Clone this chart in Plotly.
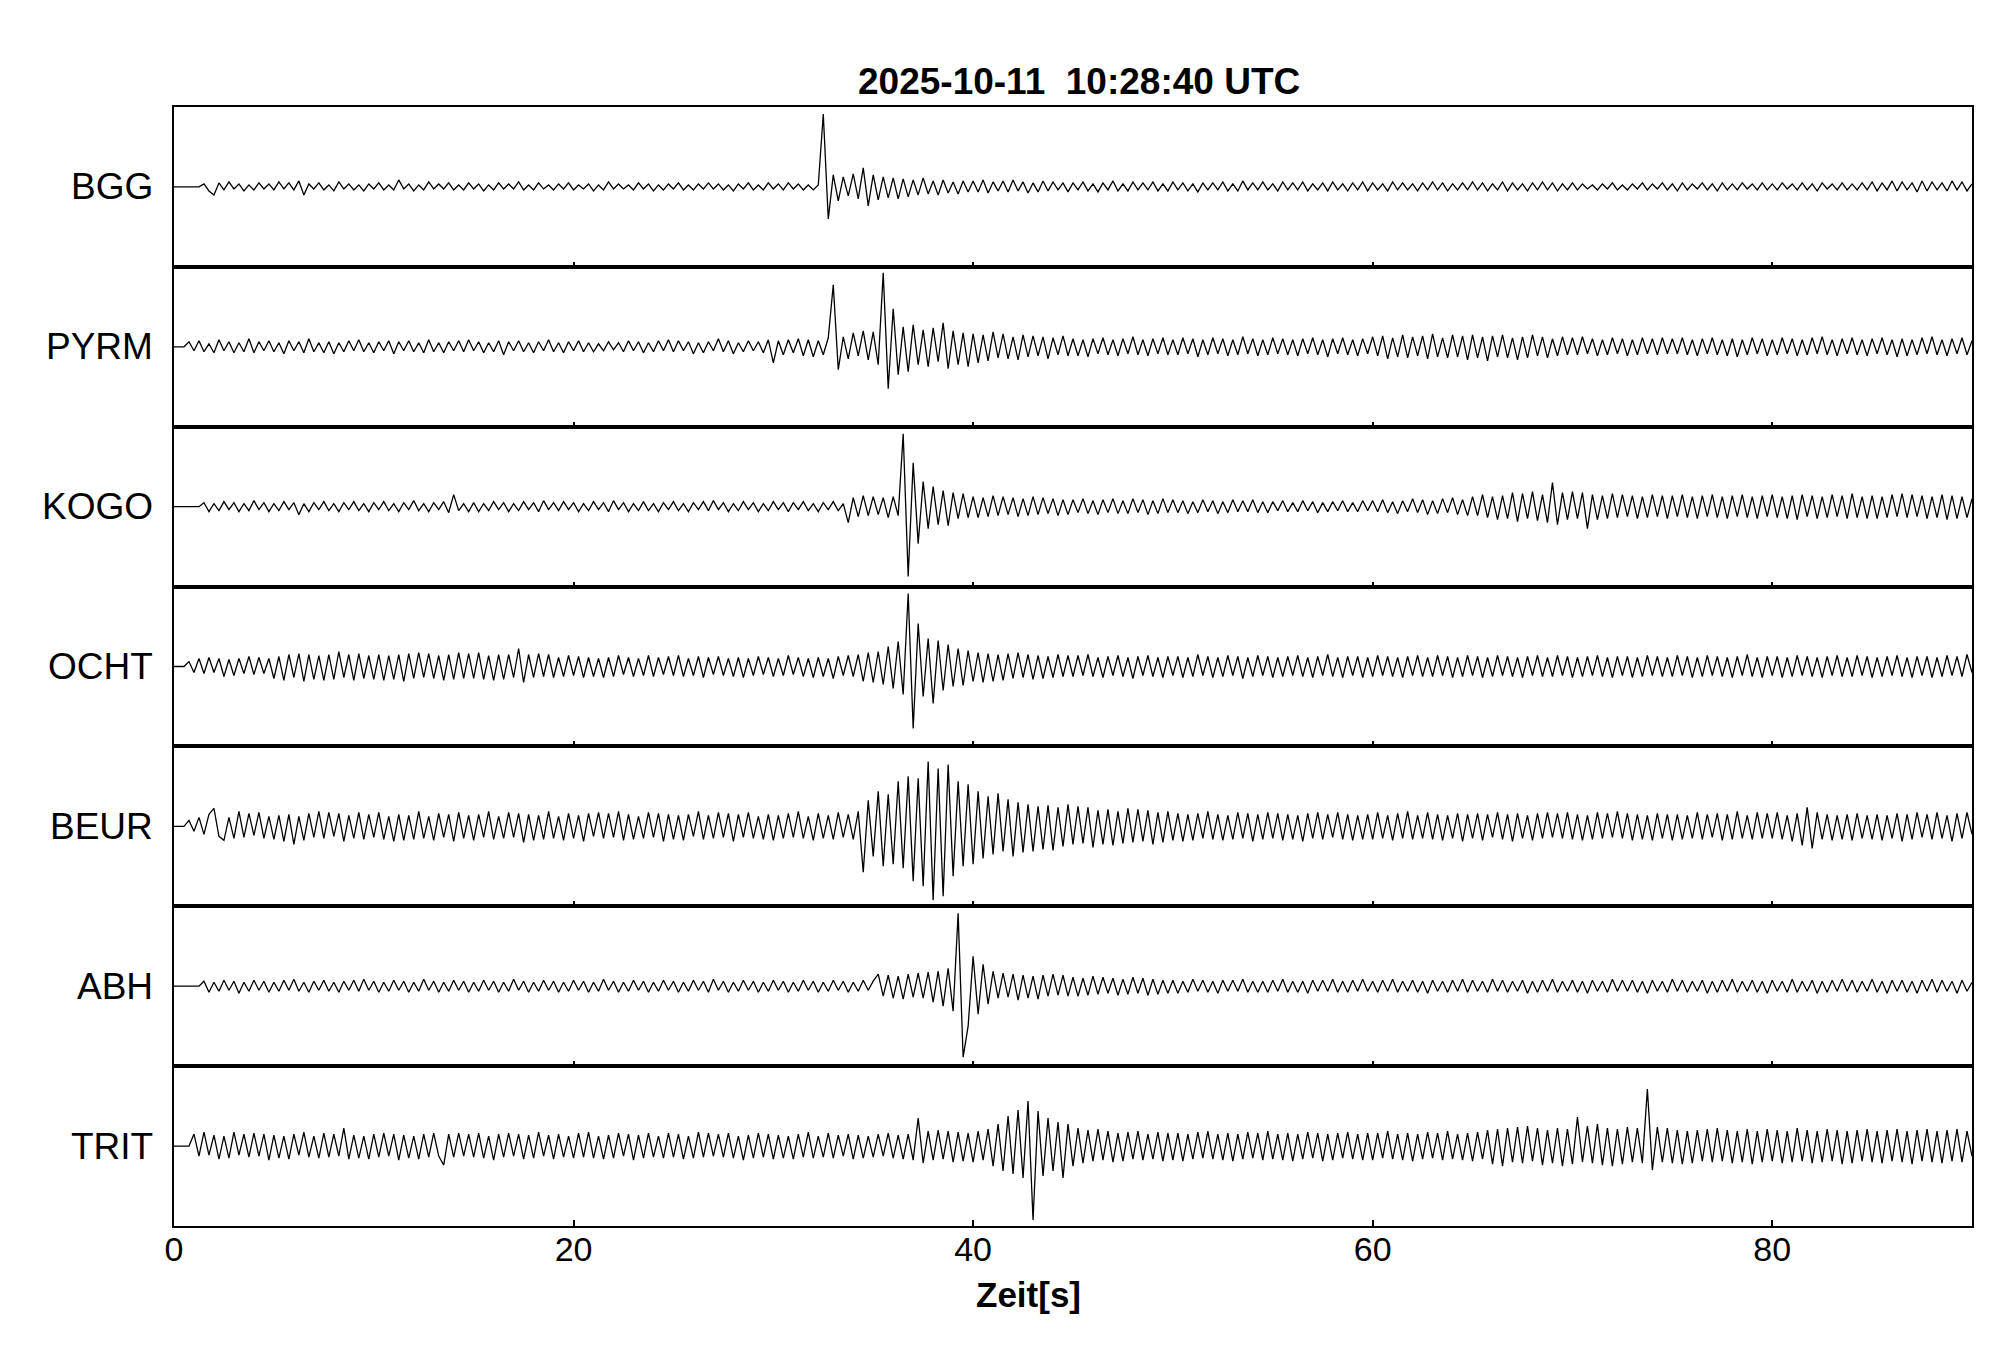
import numpy as np
import plotly.graph_objects as go
from plotly.subplots import make_subplots

FONT = "Liberation Sans, Arial, Helvetica, sans-serif"

stations = ["BGG", "PYRM", "KOGO", "OCHT", "BEUR", "ABH", "TRIT"]
dt = 0.25  # seconds between samples
x_ticks = [0, 20, 40, 60, 80]
x_range = [0, 90]
title_text = "2025-10-11\u00a0\u00a010:28:40 UTC"
x_title = "Zeit[s]"

# amplitudes (arbitrary counts), one sample every 0.25 s, 20 samples per row = 5 s
bgg = [
    0, 0, 0, 0, 0, 0, 3, -4, -8, 4, -3, 5, -2, 3, -4, 2, -3, 4, -2, 3,
    -3, 5, -2, 4, -3, 6, -8, 3, -2, 4, -3, 2, -4, 5, -2, 3, -3, 2, -4, 3,
    -2, 4, -3, 2, -3, 7, -2, 3, -4, 2, -3, 5, -2, 3, -2, 4, -3, 2, -3, 4,
    -2, 3, -4, 2, -3, 4, -2, 3, -2, 5, -3, 2, -3, 4, -2, 2, -3, 3, -2, 4,
    -3, 2, -2, 3, -4, 2, -3, 5, -2, 3, -2, 2, -3, 4, -2, 3, -4, 2, -3, 3,
    -2, 4, -3, 2, -3, 3, -2, 4, -2, 3, -3, 2, -4, 3, -2, 4, -3, 2, -3, 4,
    -2, 3, -3, 4, -2, 3, -3, 2, -3, 2, 73, -32, 12, -14, 10, -9, 13, -12, 19, -19,
    12, -13, 10, -11, 9, -12, 8, -10, 7, -8, 9, -7, 6, -8, 7, -6, 5, -7, 6, -5,
    6, -5, 7, -6, 5, -4, 6, -5, 7, -4, 5, -6, 4, -5, 6, -4, 5, -3, 4, -5,
    4, -3, 5, -4, 3, -5, 4, -3, 6, -4, 3, -4, 5, -3, 4, -3, 5, -4, 3, -4,
    5, -3, 4, -4, 3, -5, 4, -3, 4, -3, 5, -4, 3, -4, 6, -3, 4, -3, 5, -3,
    3, -4, 5, -3, 4, -3, 5, -4, 3, -3, 4, -4, 5, -3, 3, -4, 4, -3, 5, -4,
    4, -3, 3, -4, 5, -3, 4, -3, 3, -4, 4, -3, 5, -3, 4, -4, 3, -3, 4, -3,
    5, -3, 4, -4, 3, -3, 5, -4, 4, -3, 3, -4, 4, -3, 5, -3, 4, -4, 3, -3,
    4, -3, 3, -2, 2, -3, 3, -2, 4, -3, 2, -3, 3, -2, 4, -3, 3, -2, 4, -3,
    3, -4, 4, -3, 3, -2, 4, -3, 3, -4, 4, -3, 3, -3, 4, -2, 3, -3, 4, -3,
    3, -3, 4, -2, 3, -3, 4, -3, 3, -4, 4, -2, 3, -3, 4, -3, 3, -3, 4, -3,
    5, -4, 4, -3, 6, -4, 5, -3, 4, -5, 6, -4, 5, -3, 4, -4, 6, -3, 5, -4,
    3,
]

pyrm = [
    0, 0, 0, 5, -4, 6, -5, 3, -6, 7, -4, 5, -6, 4, -5, 8, -6, 5, -4, 6,
    -5, 4, -7, 6, -4, 5, -6, 8, -5, 4, -6, 5, -7, 4, -5, 6, -4, 7, -5, 4,
    -6, 5, -4, 6, -7, 5, -4, 6, -5, 4, -6, 7, -5, 4, -6, 5, -4, 6, -5, 7,
    -4, 5, -6, 4, -5, 6, -8, 5, -4, 6, -5, 4, -6, 5, -4, 7, -5, 4, -6, 5,
    -4, 6, -5, 4, -5, 3, -4, 5, -3, 4, -5, 6, -4, 5, -6, 4, -5, 6, -4, 7,
    -5, 6, -4, 5, -7, 4, -6, 5, -4, 8, -5, 6, -7, 4, -5, 6, -4, 5, -6, 7,
    -16, 6, -8, 7, -6, 8, -9, 7, -10, 6, -8, 9, 62, -23, 10, -12, 14, -9, 16, -13,
    15, -18, 74, -42, 38, -28, 20, -25, 22, -18, 17, -20, 19, -15, 24, -22, 16, -18, 14, -20,
    13, -16, 12, -14, 15, -11, 13, -12, 10, -13, 12, -10, 11, -9, 10, -12, 9, -8, 11, -9,
    8, -9, 7, -10, 8, -7, 9, -8, 7, -9, 8, -7, 10, -8, 7, -9, 8, -7, 9, -8,
    7, -8, 9, -7, 8, -10, 7, -8, 9, -7, 8, -9, 7, -8, 10, -7, 8, -9, 7, -8,
    9, -7, 8, -8, 7, -9, 8, -7, 9, -8, 7, -10, 8, -7, 9, -8, 7, -9, 8, -7,
    10, -9, 11, -12, 9, -10, 12, -11, 10, -9, 11, -12, 13, -10, 9, -11, 12, -10, 11, -13,
    12, -11, 10, -14, 11, -10, 12, -11, 9, -13, 10, -11, 12, -9, 10, -11, 8, -9, 10, -8,
    9, -8, 10, -7, 8, -9, 7, -8, 9, -7, 8, -9, 7, -8, 9, -7, 8, -8, 9, -7,
    8, -7, 9, -8, 7, -9, 8, -7, 9, -8, 7, -9, 8, -10, 7, -8, 9, -7, 8, -9,
    7, -8, 9, -7, 8, -9, 7, -8, 9, -7, 10, -8, 7, -9, 8, -7, 9, -8, 7, -9,
    8, -7, 9, -8, 7, -10, 8, -9, 7, -8, 9, -7, 10, -8, 7, -9, 8, -7, 9, -8,
    6,
]

kogo = [
    0, 0, 0, 0, 0, 0, 4, -5, 3, -4, 5, -3, 4, -5, 3, -4, 6, -3, 4, -5,
    3, -4, 5, -3, 4, -8, 3, -5, 4, -3, 5, -4, 3, -5, 4, -3, 5, -4, 3, -5,
    4, -3, 5, -4, 3, -5, 4, -3, 6, -4, 3, -5, 4, -3, 5, -6, 12, -4, 3, -5,
    4, -5, 3, -4, 5, -3, 4, -5, 3, -4, 5, -3, 4, -5, 6, -3, 4, -4, 5, -3,
    4, -5, 3, -4, 5, -3, 4, -5, 6, -3, 4, -5, 3, -4, 5, -4, 3, -5, 4, -3,
    5, -4, 3, -5, 4, -3, 5, -4, 6, -3, 4, -5, 3, -4, 5, -3, 4, -5, 3, -4,
    5, -3, 4, -5, 4, -3, 5, -4, 3, -5, 4, -3, 5, -4, 3, -16, 9, -10, 11, -9,
    10, -8, 9, -11, 10, -9, 73, -70, 44, -37, 25, -22, 20, -18, 16, -19, 14, -12, 13, -11,
    10, -11, 9, -10, 11, -9, 10, -8, 9, -10, 8, -9, 10, -8, 9, -7, 8, -9, 7, -8,
    7, -6, 8, -7, 6, -8, 7, -6, 8, -7, 6, -7, 8, -6, 7, -8, 6, -7, 8, -6,
    7, -6, 6, -7, 5, -6, 7, -5, 6, -7, 5, -6, 7, -5, 6, -5, 7, -6, 5, -6,
    5, -4, 6, -5, 4, -5, 6, -4, 5, -6, 4, -5, 5, -4, 6, -5, 4, -5, 6, -4,
    6, -5, 7, -6, 5, -7, 6, -5, 8, -6, 7, -8, 6, -7, 8, -6, 9, -8, 7, -9,
    10, -9, 12, -11, 10, -13, 11, -12, 14, -15, 13, -12, 15, -14, 12, -16, 24, -18, 14, -13,
    15, -12, 14, -22, 12, -13, 11, -12, 13, -11, 12, -10, 11, -12, 10, -11, 12, -10, 11, -12,
    11, -10, 12, -11, 10, -12, 11, -10, 12, -11, 10, -12, 11, -10, 12, -11, 10, -12, 11, -10,
    12, -11, 10, -12, 11, -13, 12, -10, 11, -12, 10, -11, 12, -10, 11, -12, 13, -11, 10, -12,
    11, -12, 10, -11, 12, -10, 13, -11, 12, -10, 11, -12, 10, -11, 12, -13, 11, -12, 10, -11,
    8,
]

ocht = [
    0, 0, 0, 5, -6, 8, -7, 9, -6, 8, -10, 7, -9, 8, -7, 10, -8, 9, -7, 8,
    -12, 10, -14, 12, -11, 13, -15, 12, -13, 11, -14, 12, -13, 15, -11, 12, -14, 13, -12, 11,
    -13, 12, -14, 11, -13, 12, -15, 13, -12, 14, -11, 13, -12, 11, -14, 12, -13, 14, -12, 13,
    -12, 14, -13, 11, -14, 12, -13, 12, -11, 18, -16, 12, -11, 13, -10, 12, -11, 9, -10, 11,
    -9, 10, -11, 9, -10, 8, -11, 9, -10, 11, -8, 9, -10, 8, -9, 11, -10, 9, -8, 10,
    -9, 11, -10, 8, -9, 10, -11, 9, -8, 10, -9, 8, -10, 9, -11, 8, -9, 10, -8, 9,
    -10, 8, -9, 11, -8, 9, -10, 8, -11, 9, -10, 8, -12, 10, -9, 11, -10, 12, -15, 14,
    -16, 15, -18, 20, -22, 25, -28, 73, -62, 43, -30, 28, -37, 26, -24, 22, -20, 18, -19, 16,
    -15, 14, -16, 13, -15, 12, -14, 13, -12, 14, -11, 12, -13, 11, -12, 10, -11, 12, -10, 11,
    -10, 11, -9, 12, -10, 9, -11, 10, -9, 11, -10, 9, -12, 10, -9, 11, -10, 9, -11, 10,
    -9, 10, -11, 9, -10, 12, -9, 10, -11, 9, -10, 11, -9, 10, -12, 9, -10, 11, -9, 10,
    -11, 9, -10, 10, -9, 11, -10, 9, -11, 10, -9, 12, -10, 9, -11, 10, -9, 10, -11, 9,
    -10, 11, -9, 10, -10, 9, -11, 10, -9, 11, -10, 9, -10, 11, -9, 10, -11, 9, -10, 11,
    -9, 10, -11, 9, -10, 11, -9, 10, -10, 9, -11, 10, -9, 11, -10, 9, -10, 11, -9, 10,
    -11, 9, -10, 10, -9, 11, -10, 9, -11, 10, -9, 10, -11, 9, -10, 11, -9, 10, -10, 9,
    -10, 11, -9, 10, -11, 9, -10, 11, -9, 10, -10, 9, -11, 10, -9, 12, -10, 9, -11, 10,
    -9, 10, -11, 9, -10, 11, -9, 10, -10, 9, -11, 10, -9, 11, -10, 9, -10, 11, -9, 10,
    -11, 9, -10, 10, -9, 11, -10, 9, -11, 10, -9, 10, -11, 9, -10, 11, -9, 10, -10, 12,
    -6,
]

beur = [
    0, 0, 0, 6, -5, 9, -8, 12, 18, -10, -14, 9, -12, 15, -11, 13, -9, 14, -12, 10,
    -13, 11, -15, 12, -18, 10, -14, 13, -11, 15, -12, 14, -10, 13, -15, 11, -12, 14, -13, 12,
    -11, 14, -13, 10, -15, 12, -14, 11, -13, 15, -12, 10, -14, 13, -11, 12, -15, 14, -12, 11,
    -14, 12, -11, 15, -13, 10, -12, 14, -11, 13, -16, 12, -14, 11, -13, 15, -12, 10, -14, 13,
    -12, 11, -15, 13, -10, 14, -12, 13, -11, 15, -14, 12, -13, 10, -12, 14, -11, 13, -15, 12,
    -13, 11, -14, 12, -10, 15, -13, 11, -12, 14, -11, 13, -15, 12, -11, 14, -12, 10, -13, 12,
    -14, 11, -12, 13, -11, 15, -12, 10, -14, 13, -12, 11, -13, 14, -11, 12, -13, 15, -46, 26,
    -30, 35, -40, 32, -38, 45, -42, 50, -55, 48, -60, 65, -74, 58, -70, 62, -50, 45, -40, 42,
    -38, 35, -32, 30, -28, 33, -25, 27, -30, 24, -26, 22, -25, 20, -23, 21, -24, 19, -20, 22,
    -18, 20, -17, 19, -21, 16, -18, 17, -19, 15, -17, 18, -16, 17, -15, 16, -18, 14, -16, 15,
    -14, 13, -15, 12, -14, 13, -12, 15, -13, 12, -14, 11, -13, 14, -12, 13, -15, 12, -13, 14,
    -12, 13, -14, 12, -13, 11, -15, 13, -12, 14, -13, 12, -11, 14, -13, 12, -14, 11, -13, 12,
    -13, 14, -12, 11, -14, 13, -12, 15, -13, 11, -12, 14, -13, 12, -14, 11, -12, 13, -15, 12,
    -12, 13, -14, 12, -11, 14, -13, 12, -15, 13, -12, 11, -14, 13, -12, 14, -11, 13, -12, 14,
    -13, 12, -14, 11, -13, 14, -12, 13, -11, 15, -12, 13, -14, 12, -13, 11, -14, 13, -12, 12,
    -14, 12, -13, 11, -12, 14, -13, 12, -11, 13, -14, 12, -13, 15, -12, 11, -13, 14, -12, 13,
    -12, 14, -13, 11, -15, 13, -19, 19, -22, 14, -13, 12, -14, 11, -13, 12, -14, 13, -12, 11,
    -13, 12, -14, 11, -12, 13, -15, 12, -13, 14, -11, 12, -13, 14, -12, 11, -15, 13, -12, 14,
    -8,
]

abh = [
    0, 0, 0, 0, 0, 0, 5, -6, 4, -5, 6, -4, 5, -7, 4, -5, 6, -4, 5, -6,
    4, -5, 6, -4, 7, -5, 4, -6, 5, -4, 6, -5, 4, -6, 5, -4, 6, -5, 7, -4,
    5, -6, 4, -5, 6, -4, 5, -6, 4, -5, 7, -4, 5, -6, 4, -5, 6, -4, 5, -6,
    4, -5, 6, -4, 5, -6, 4, -5, 7, -4, 5, -6, 4, -5, 6, -4, 5, -6, 4, -5,
    6, -4, 5, -6, 4, -5, 7, -4, 5, -6, 4, -5, 6, -4, 5, -6, 4, -5, 6, -4,
    5, -6, 4, -5, 6, -4, 5, -6, 7, -4, 5, -6, 4, -5, 6, -4, 5, -6, 4, -5,
    6, -4, 5, -6, 4, -5, 6, -4, 5, -6, 4, -5, 6, -4, 5, -6, 4, -5, 6, -4,
    5, 12, -10, 11, -12, 10, -13, 12, -11, 13, -12, 14, -16, 15, -20, 18, -25, 73, -71, -40,
    30, -28, 22, -18, 15, -12, 13, -11, 12, -14, 11, -12, 10, -13, 11, -10, 12, -9, 11, -10,
    9, -10, 8, -9, 10, -8, 9, -7, 8, -9, 7, -8, 9, -7, 8, -9, 7, -8, 6, -7,
    6, -7, 5, -6, 7, -5, 6, -6, 5, -7, 6, -5, 6, -5, 7, -6, 5, -6, 5, -6,
    6, -5, 7, -6, 5, -6, 5, -7, 6, -5, 6, -5, 7, -6, 5, -6, 6, -5, 7, -5,
    5, -6, 6, -5, 7, -6, 5, -5, 6, -6, 5, -7, 6, -5, 5, -6, 6, -5, 7, -6,
    6, -5, 5, -6, 7, -5, 6, -6, 5, -5, 6, -7, 5, -6, 6, -5, 7, -6, 5, -5,
    6, -6, 5, -7, 6, -5, 5, -6, 7, -5, 6, -5, 6, -6, 5, -7, 6, -5, 5, -6,
    7, -5, 6, -6, 5, -5, 6, -7, 5, -6, 6, -5, 7, -6, 5, -5, 6, -6, 5, -7,
    6, -5, 5, -6, 7, -6, 5, -5, 6, -7, 5, -6, 6, -5, 7, -5, 6, -6, 5, -5,
    7, -6, 5, -7, 6, -5, 6, -6, 5, -7, 6, -5, 7, -6, 6, -5, 5, -7, 6, -5,
    4,
]

trit = [
    0, 0, 0, 0, 12, -10, 14, -9, 11, -13, 10, -12, 14, -9, 12, -11, 13, -10, 12, -14,
    11, -12, 10, -13, 12, -9, 14, -11, 10, -12, 13, -11, 12, -10, 18, -13, 11, -12, 10, -13,
    12, -11, 13, -10, 12, -14, 11, -12, 10, -13, 12, -11, 13, -10, -19, 12, -11, 13, -10, 12,
    -11, 13, -12, 10, -14, 12, -11, 13, -10, 12, -13, 11, -12, 14, -10, 11, -13, 12, -11, 10,
    -12, 13, -11, 14, -12, 10, -13, 11, -12, 13, -10, 12, -14, 11, -12, 13, -11, 10, -12, 13,
    -11, 12, -13, 10, -12, 14, -11, 13, -10, 12, -11, 13, -12, 10, -14, 11, -12, 13, -11, 12,
    -13, 11, -12, 10, -13, 12, -11, 14, -12, 10, -11, 13, -12, 11, -10, 12, -13, 11, -12, 10,
    -11, 12, -10, 13, -12, 11, -13, 12, -14, 28, -17, 15, -14, 16, -13, 15, -16, 14, -15, 13,
    -16, 15, -14, 17, -20, 22, -25, 30, -28, 36, -32, 45, -74, 35, -30, 28, -25, 24, -32, 22,
    -20, 18, -17, 16, -15, 17, -14, 15, -16, 13, -15, 14, -13, 15, -14, 12, -13, 14, -15, 13,
    -14, 13, -15, 12, -13, 14, -12, 15, -13, 12, -14, 13, -15, 12, -13, 14, -12, 13, -14, 15,
    -13, 12, -14, 13, -15, 12, -13, 14, -12, 13, -15, 12, -14, 13, -12, 14, -13, 12, -14, 13,
    -14, 13, -12, 15, -13, 12, -14, 13, -15, 12, -13, 14, -12, 13, -14, 15, -13, 12, -14, 13,
    -15, 14, -13, 16, -18, 17, -20, 18, -16, 19, -17, 20, -15, 18, -19, 16, -17, 18, -20, 17,
    -18, 29, -16, 20, -17, 22, -19, 18, -20, 17, -18, 19, -16, 18, -17, 57, -24, 19, -16, 18,
    -17, 16, -18, 15, -17, 16, -15, 17, -16, 18, -15, 16, -17, 15, -16, 17, -18, 15, -16, 17,
    -15, 16, -17, 15, -16, 18, -15, 16, -17, 15, -16, 17, -15, 16, -18, 15, -17, 16, -15, 17,
    -16, 15, -17, 16, -15, 17, -16, 15, -18, 16, -15, 17, -16, 15, -17, 16, -15, 17, -16, 15,
    -10,
]

series = [bgg, pyrm, kogo, ocht, beur, abh, trit]
n_rows = len(stations)

fig = make_subplots(rows=n_rows, cols=1, shared_xaxes=True, vertical_spacing=0)

for i, (name, vals) in enumerate(zip(stations, series), start=1):
    t = np.arange(len(vals)) * dt
    fig.add_trace(
        go.Scatter(x=t, y=vals, mode="lines",
                   line=dict(color="black", width=1.3),
                   showlegend=False, hoverinfo="skip"),
        row=i, col=1)
    fig.update_yaxes(range=[-80, 80], showline=True, linecolor="black", linewidth=2,
                     mirror=True, showticklabels=False, ticks="", showgrid=False,
                     zeroline=False, fixedrange=True, row=i, col=1)
    fig.update_xaxes(range=x_range, tickvals=x_ticks, ticks="inside",
                     ticklen=6 if i == n_rows else 5, tickwidth=2, tickcolor="black",
                     showline=True, linecolor="black", linewidth=2, mirror=True,
                     showgrid=False, zeroline=False, showticklabels=(i == n_rows),
                     ticklabelstandoff=-8,
                     tickfont=dict(family=FONT, size=34, color="black"),
                     row=i, col=1)
    yref = "y domain" if i == 1 else f"y{i} domain"
    fig.add_annotation(text=name, xref="paper", yref=yref, x=-0.0108, y=0.5,
                       xanchor="right", yanchor="middle", showarrow=False,
                       font=dict(family=FONT, size=37, color="black"))

fig.add_annotation(text=f"<b>{title_text}</b>", xref="paper", yref="paper",
                   x=0.5033, y=1.0228, xanchor="center", yanchor="middle",
                   showarrow=False, font=dict(family=FONT, size=37, color="black"))
fig.add_annotation(text=f"<b>{x_title}</b>", xref="paper", yref="paper",
                   x=0.475, y=-0.061, xanchor="center", yanchor="middle",
                   showarrow=False, font=dict(family=FONT, size=35, color="black"))

# the page body adds an 8 px offset, so the figure is 8 px smaller on each side
fig.update_layout(width=1997, height=1353,
                  margin=dict(l=166, r=33, t=99, b=135),
                  paper_bgcolor="white", plot_bgcolor="white")

fig.write_html("out.html")
